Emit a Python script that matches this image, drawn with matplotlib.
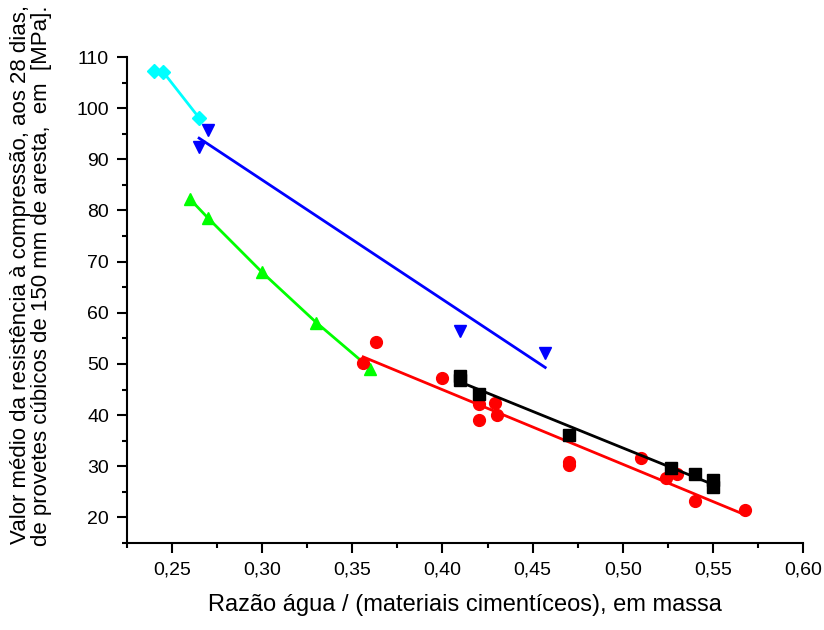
import numpy as np
import matplotlib
matplotlib.use("Agg")
import matplotlib.pyplot as plt
from matplotlib.ticker import MultipleLocator, FuncFormatter

plt.rcParams['font.family'] = ['Liberation Sans', 'DejaVu Sans']

# data
cyan_x = [0.240, 0.245, 0.265]
cyan_y = [107.3, 107.1, 98.1]

blue_x = [0.265, 0.270, 0.410, 0.457]
blue_y = [92.4, 95.7, 56.5, 52.1]

green_x = [0.26, 0.27, 0.30, 0.33, 0.36]
green_y = [82.2, 78.5, 67.9, 58.1, 49.1]

red_x = [0.356, 0.363, 0.400, 0.420, 0.420, 0.429, 0.430, 0.470, 0.470,
         0.510, 0.524, 0.530, 0.540, 0.568]
red_y = [50.1, 54.2, 47.2, 42.1, 39.0, 42.3, 40.0, 30.8, 30.2,
         31.7, 27.8, 28.4, 23.3, 21.5]

black_x = [0.410, 0.410, 0.420, 0.470, 0.527, 0.540, 0.550, 0.550]
black_y = [47.7, 46.9, 44.2, 36.2, 29.6, 28.4, 27.3, 26.0]

fig = plt.figure(figsize=(8.24, 6.30), dpi=100)
ax = fig.add_axes([127/824, 1 - 543/630, (803 - 127)/824, (543 - 57)/630])

lw = 2.0
ms = 8.5

# connected series
ax.plot(cyan_x, cyan_y, color='#00FFFF', lw=lw, marker='D', ms=ms - 1.5, ls='-')
ax.plot(green_x, green_y, color='#00FF00', lw=lw, marker='^', ms=ms, ls='-')


def fit_line(x, y):
    p = np.polyfit(x, y, 1)
    xx = np.array([min(x), max(x)])
    return xx, np.polyval(p, xx)


# scattered series with linear fits
ax.plot(blue_x, blue_y, ls='none', color='#0000FF', marker='v', ms=ms)
ax.plot(*fit_line(blue_x, blue_y), color='#0000FF', lw=lw)

ax.plot(red_x, red_y, ls='none', color='#FF0000', marker='o', ms=ms)
ax.plot(*fit_line(red_x, red_y), color='#FF0000', lw=lw)

ax.plot(black_x, black_y, ls='none', color='black', marker='s', ms=ms - 0.5)
ax.plot(*fit_line(black_x, black_y), color='black', lw=lw)

ax.set_xlim(0.225, 0.60)
ax.set_ylim(15, 110)

ax.spines['top'].set_visible(False)
ax.spines['right'].set_visible(False)
ax.spines['left'].set_linewidth(1.5)
ax.spines['bottom'].set_linewidth(1.5)

ax.xaxis.set_minor_locator(MultipleLocator(0.025))
ax.yaxis.set_minor_locator(MultipleLocator(5))
ax.set_xticks(np.arange(0.25, 0.601, 0.05))
ax.set_yticks(np.arange(20, 111, 10))
ax.xaxis.set_major_formatter(FuncFormatter(lambda v, p: f"{v:.2f}".replace('.', ',')))
ax.yaxis.set_major_formatter(FuncFormatter(lambda v, p: f"{v:.0f}"))

ax.tick_params(which='major', length=7, width=1.5, labelsize=14, pad=6)
ax.tick_params(which='minor', length=3.5, width=1.5)

fig.text(31/824, 1 - 5/630,
         "Valor médio da resistência à compressão, aos 28 dias,\n"
         "de provetes cúbicos de 150 mm de aresta,  em  [MPa].",
         rotation=90, ha='center', va='top', multialignment='right',
         fontsize=16, linespacing=1.0)

fig.text(465/824, 1 - 605/630, "Razão água / (materiais cimentíceos), em massa",
         ha='center', va='center', fontsize=17)

fig.savefig("out.png", dpi=100)
